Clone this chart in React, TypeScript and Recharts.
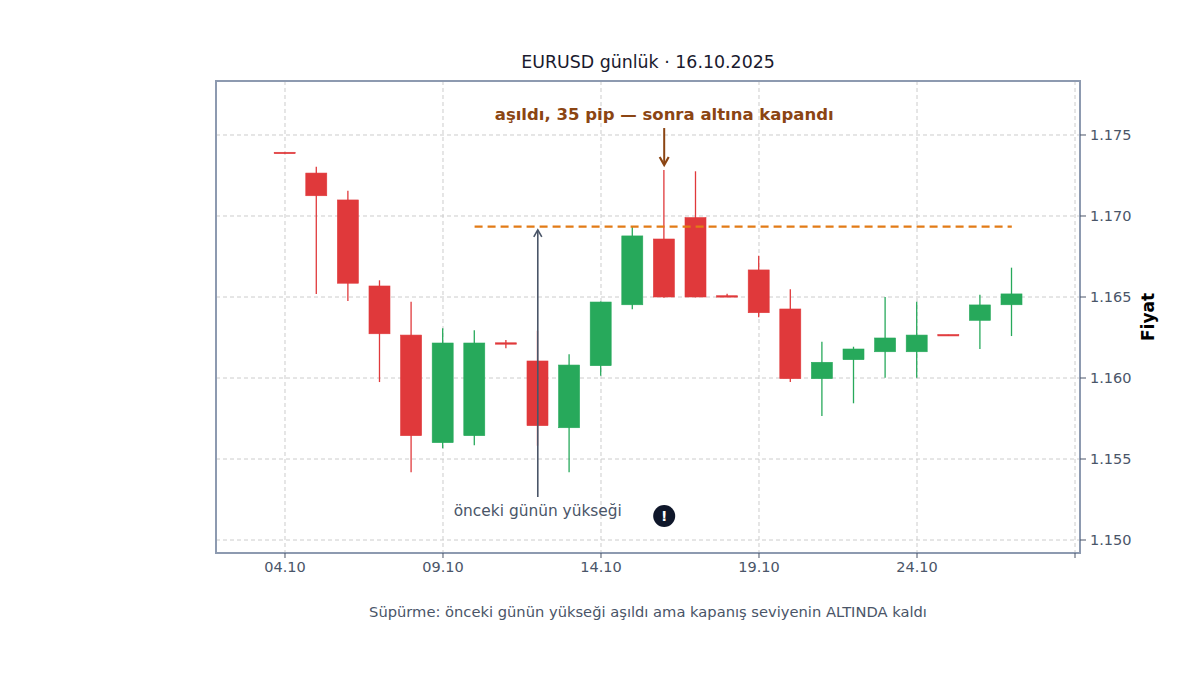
import React from "react";
import {
  ComposedChart,
  Bar,
  XAxis,
  YAxis,
  CartesianGrid,
  ReferenceLine,
  ReferenceArea,
  ReferenceDot,
} from "recharts";

// ---- data ----
const days = [4, 5, 6, 7, 8, 9, 10, 11, 12, 13, 14, 15, 16, 17, 18, 19, 20, 21, 22, 23, 24, 25, 26, 27];
const opens = [1.1739, 1.17265, 1.17099, 1.16568, 1.16265, 1.15601, 1.15644, 1.16214, 1.16105, 1.15693, 1.16076, 1.16452, 1.16858, 1.1699, 1.16505, 1.16667, 1.16426, 1.15996, 1.16113, 1.16162, 1.16162, 1.16265, 1.16356, 1.16452];
const highs = [1.17392, 1.17304, 1.17156, 1.16603, 1.16471, 1.16307, 1.16294, 1.16235, 1.16292, 1.16146, 1.16472, 1.16934, 1.17284, 1.17276, 1.1652, 1.16755, 1.16548, 1.16224, 1.16193, 1.165, 1.16471, 1.16267, 1.16514, 1.16681];
const lows = [1.17386, 1.16519, 1.16475, 1.15975, 1.15418, 1.15566, 1.15585, 1.16183, 1.15582, 1.15418, 1.16014, 1.16424, 1.16495, 1.16498, 1.165, 1.16375, 1.15975, 1.15765, 1.15844, 1.16002, 1.16002, 1.16261, 1.16179, 1.16259];
const closes = [1.17388, 1.17125, 1.16585, 1.16273, 1.15644, 1.16216, 1.16216, 1.16212, 1.15706, 1.1608, 1.16469, 1.16877, 1.165, 1.165, 1.16502, 1.16403, 1.15996, 1.16097, 1.16179, 1.16247, 1.16265, 1.16263, 1.16451, 1.16519];

const xTicks = [4, 9, 14, 19, 24, 29];
const xTickLabels = ["04.10", "09.10", "14.10", "19.10", "24.10", ""];
const yTicks = [1.15, 1.155, 1.16, 1.165, 1.17, 1.175];

const prevHigh = 1.16934;
const sweepDay = 16;
const levelFrom = 10;
const levelTo = 27;
const levelLabelDay = 12;

const title = "EURUSD günlük · 16.10.2025";
const caption = "Süpürme: önceki günün yükseği aşıldı ama kapanış seviyenin ALTINDA kaldı";
const sweepText = "aşıldı, 35 pip — sonra altına kapandı";
const levelText = "önceki günün yükseği";

const data = days.map((d, i) => ({ d, o: opens[i], h: highs[i], l: lows[i], c: closes[i] }));

const X_DOMAIN: [number, number] = [1.817, 29.158];
const Y_DOMAIN: [number, number] = [1.149198, 1.178333];

const RED = "#e0393b";
const GREEN = "#27a95b";
const FONT = "'DejaVu Sans', sans-serif";

const Candle = (props: any) => {
  const { x, y, width, height, payload } = props;
  if (!payload) return null;
  const { o, h, l, c } = payload;
  const up = c >= o;
  const color = up ? GREEN : RED;
  const span = h - l || 1e-9;
  const py = (p: number) => y + ((h - p) / span) * height;
  const cx = x + width / 2;
  const top = py(Math.max(o, c));
  const bot = py(Math.min(o, c));
  const bh = Math.max(bot - top, 1.4);
  return (
    <g>
      <line x1={cx} x2={cx} y1={py(h)} y2={py(l)} stroke={color} strokeWidth={1.3} />
      <rect x={x} y={bot - top < 1.4 ? (top + bot) / 2 - 0.7 : top} width={width} height={bh} fill={color} stroke={color} strokeWidth={0.6} />
    </g>
  );
};

const upArrow = (color: string, sw: number, text: string) => (props: any) => {
  const { x1, y1, x2, y2 } = props;
  const tipY = Math.min(y1, y2);
  const baseY = Math.max(y1, y2);
  const x = x1;
  return (
    <g>
      <line x1={x} x2={x} y1={baseY} y2={tipY} stroke={color} strokeWidth={sw} />
      <polyline points={`${x - 4},${tipY + 7} ${x},${tipY} ${x + 4},${tipY + 7}`} fill="none" stroke={color} strokeWidth={sw} />
      <text x={x} y={baseY + 19} textAnchor="middle" fontSize={15.4} fill="#4a5568" fontFamily={FONT}>
        {text}
      </text>
    </g>
  );
};

const downArrow = (color: string, text: string) => (props: any) => {
  const { x1, y1, x2, y2 } = props;
  const tipY = Math.max(y1, y2);
  const baseY = Math.min(y1, y2);
  const x = x1;
  return (
    <g>
      <line x1={x} x2={x} y1={baseY} y2={tipY - 1} stroke={color} strokeWidth={2} />
      <polyline points={`${x - 4.5},${tipY - 8} ${x},${tipY} ${x + 4.5},${tipY - 8}`} fill="none" stroke={color} strokeWidth={2.2} />
      <text x={x} y={baseY - 8} textAnchor="middle" fontSize={16.5} fontWeight="bold" fill="#8b4513" fontFamily={FONT}>
        {text}
      </text>
    </g>
  );
};

const Bang = (props: any) => {
  const { cx, cy } = props;
  return (
    <g>
      <circle cx={cx} cy={cy} r={11} fill="#0f172a" />
      <text x={cx} y={cy + 5} textAnchor="middle" fontSize={14} fontWeight="bold" fill="#ffffff" fontFamily={FONT}>
        !
      </text>
    </g>
  );
};

const YLabel = (props: any) => {
  const { viewBox } = props;
  const cx = viewBox.x + 68;
  const cy = viewBox.y + viewBox.height / 2;
  return (
    <text x={cx} y={cy} transform={`rotate(-90 ${cx} ${cy})`} textAnchor="middle" dominantBaseline="central" fontSize={17} fontWeight="bold" fill="#000000" fontFamily={FONT}>
      Fiyat
    </text>
  );
};

export default function App() {
  return (
    <div style={{ position: "absolute", left: 0, top: 0, width: 1200, height: 675, background: "#ffffff", fontFamily: FONT }}>
      <div style={{ position: "absolute", left: 216, width: 864, top: 51, height: 22, lineHeight: "22px", textAlign: "center", fontSize: 17.4, color: "#1a1a2e" }}>
        {title}
      </div>
      <ComposedChart
        width={1200}
        height={675}
        data={data}
        margin={{ top: 81, left: 216, right: 0, bottom: 92 }}
        style={{ fontFamily: FONT }}
      >
        <CartesianGrid stroke="#cccccc" strokeDasharray="4 3" strokeWidth={1} />
        <XAxis
          dataKey="d"
          type="number"
          domain={X_DOMAIN}
          ticks={xTicks}
          allowDataOverflow
          tickFormatter={(v: number) => xTickLabels[xTicks.indexOf(v)] ?? ""}
          height={30}
          axisLine={false}
          tickSize={5}
          tickMargin={4}
          tickLine={{ stroke: "#4a5568" }}
          tick={{ fill: "#4a5568", fontSize: 14.5 }}
        />
        <YAxis
          orientation="right"
          type="number"
          domain={Y_DOMAIN}
          ticks={yTicks}
          allowDataOverflow
          tickFormatter={(v: number) => v.toFixed(3)}
          width={120}
          axisLine={false}
          tickSize={6}
          tickMargin={4}
          tickLine={{ stroke: "#4a5568" }}
          tick={{ fill: "#4a5568", fontSize: 14.5, textAnchor: "start" }}
          label={<YLabel />}
        />
        <ReferenceArea
          x1={X_DOMAIN[0]}
          x2={X_DOMAIN[1]}
          y1={Y_DOMAIN[0]}
          y2={Y_DOMAIN[1]}
          fill="none"
          stroke="#8d9ab0"
          strokeWidth={2}
          ifOverflow="visible"
        />
        <Bar dataKey={(e: any) => [e.l, e.h]} barSize={21} shape={Candle} isAnimationActive={false} />
        <ReferenceLine
          segment={[{ x: levelFrom, y: prevHigh }, { x: levelTo, y: prevHigh }]}
          stroke="#e27b16"
          strokeWidth={2.2}
          strokeDasharray="8 5"
          ifOverflow="visible"
        />
        <ReferenceLine
          segment={[{ x: levelLabelDay, y: 1.15265 }, { x: levelLabelDay, y: 1.16914 }]}
          shape={upArrow("#4a5568", 1.6, levelText)}
          ifOverflow="visible"
        />
        <ReferenceLine
          segment={[{ x: sweepDay, y: 1.17543 }, { x: sweepDay, y: 1.17315 }]}
          shape={downArrow("#8b4513", sweepText)}
          ifOverflow="visible"
        />
        <ReferenceDot x={sweepDay} y={1.15148} r={11} shape={Bang} ifOverflow="visible" />
      </ComposedChart>
      <div style={{ position: "absolute", left: 216, width: 864, top: 602, height: 20, lineHeight: "20px", textAlign: "center", fontSize: 14.7, color: "#4a5568" }}>
        {caption}
      </div>
    </div>
  );
}
